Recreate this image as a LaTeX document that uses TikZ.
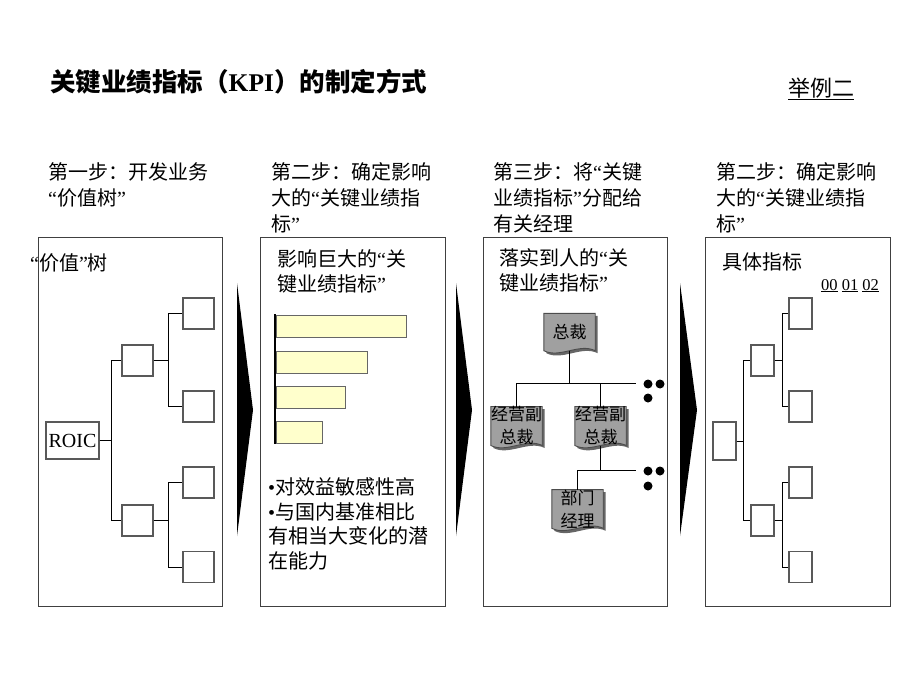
\documentclass[tikz,border=0pt]{standalone}
\usepackage{fontspec}
\setmainfont{Noto Sans CJK SC}
\newfontfamily\tnr{Liberation Serif}
\usetikzlibrary{backgrounds}
\definecolor{barfill}{HTML}{FFFFCC}
\definecolor{docgray}{HTML}{A0A0A0}
\newcommand\oq{{\tnr “}}
\newcommand\cq{{\tnr ”}}
\newcommand\bul{{\tnr •}}
\begin{document}
\begin{tikzpicture}[x=1pt,y=-1pt,
    txt/.style={anchor=base west,inner sep=0pt,align=left,font=\fontsize{20}{26}\selectfont},
    panel/.style={draw=black!75,line width=0.8pt},
    tbox/.style={draw=black!65,line width=1.1pt,inner sep=0pt,minimum height=31pt},
    doc/.style={inner sep=0pt,align=center,minimum height=37pt,font=\fontsize{17}{23}\selectfont},
    conn/.style={draw=black,line width=0.9pt},
    bar/.style={fill=barfill,draw=black!60,line width=0.8pt}]
\useasboundingbox (0,0) rectangle (920,690);

\node[txt,font=\fontsize{25.5}{25.5}\selectfont\bfseries] (title) at (50,92) {关键业绩指标（{\tnr\bfseries KPI}）的制定方式};
\node[txt,font=\fontsize{22}{22}\selectfont] (example) at (788,96.5) {\underline{举例二}};

\node[txt] (step1) at (48,205.6) {第一步：开发业务\\\oq 价值树\cq};
\node[txt] (step2) at (271,231.6) {第二步：确定影响\\大的\oq 关键业绩指\\标\cq};
\node[txt] (step3) at (493,231.6) {第三步：将\oq 关键\\业绩指标\cq 分配给\\有关经理};
\node[txt] (step4) at (716,231.6) {第二步：确定影响\\大的\oq 关键业绩指\\标\cq};

\draw[panel] (38,237) rectangle (222,606);
\draw[panel] (260,237) rectangle (445,606);
\draw[panel] (483,237) rectangle (667,606);
\draw[panel] (705,237) rectangle (890,606);

\fill (237,283) -- (253,410) -- (237,536) -- cycle;
\fill (456,283) -- (472,410) -- (456,536) -- cycle;
\fill (680,283) -- (697,410) -- (680,536) -- cycle;

\node[txt] (tree) at (30,270) {\oq 价值\cq 树};
\node[tbox,minimum width=53pt,minimum height=37pt,font=\tnr\fontsize{20}{20}\selectfont] (roic) at (72.5,440.5) {ROIC};
\node[tbox,minimum width=31pt] (m1) at (137.5,360.5) {};
\node[tbox,minimum width=31pt] (m2) at (137.5,520.5) {};
\node[tbox,minimum width=31pt] (l1) at (198.5,313.5) {};
\node[tbox,minimum width=31pt] (l2) at (198.5,406.5) {};
\node[tbox,minimum width=31pt] (l3) at (198.5,482.5) {};
\node[tbox,minimum width=31pt] (l4) at (198.5,567) {};
\draw[conn] (roic.east) -- ++(12,0) |- (m1.west);
\draw[conn] (roic.east) -- ++(12,0) |- (m2.west);
\draw[conn] (m1.east) -- ++(15,0) |- (l1.west);
\draw[conn] (m1.east) -- ++(15,0) |- (l2.west);
\draw[conn] (m2.east) -- ++(15,0) |- (l3.west);
\draw[conn] (m2.east) -- ++(15,0) |- (l4.west);

\node[txt,font=\fontsize{20}{25}\selectfont] (kpi) at (277,291) {影响巨大的\oq 关\\键业绩指标\cq};
\draw[bar] (276,315) rectangle (406,337);
\draw[bar] (276,351) rectangle (367,373);
\draw[bar] (276,386) rectangle (345,408);
\draw[bar] (276,421) rectangle (322,443);
\draw[line width=2.6pt] (275,314) -- (275,444);
\node[txt,font=\fontsize{20}{24.5}\selectfont] (notes) at (268,568) {\bul 对效益敏感性高\\\bul 与国内基准相比\\有相当大变化的潜\\在能力};

\node[txt,font=\fontsize{20}{25}\selectfont] (owner) at (499,290.6) {落实到人的\oq 关\\键业绩指标\cq};
\node[doc,minimum width=51pt,font=\fontsize{17}{20}\selectfont] (ceo) at (569.5,332) {总裁};
\node[doc,minimum width=51pt] (vp1) at (516.5,426) {经营副\\总裁};
\node[doc,minimum width=51pt] (vp2) at (600.5,426) {经营副\\总裁};
\node[doc,minimum width=51pt] (mgr) at (577.5,509) {部门\\经理};
\begin{scope}[on background layer]
\foreach \n in {ceo,vp1,vp2,mgr}{
  \fill[black!60,transform canvas={xshift=2.5pt,yshift=-2.5pt}] (\n.north west) -- (\n.north east) -- (\n.south east) .. controls +(-16,-8) and +(16,8) .. (\n.south west) -- cycle;
  \filldraw[fill=docgray,draw=black!70,line width=0.9pt] (\n.north west) -- (\n.north east) -- (\n.south east) .. controls +(-16,-8) and +(16,8) .. (\n.south west) -- cycle;
}
\end{scope}
\coordinate (bus1) at (636,383);
\coordinate (bus2) at (636,470);
\draw[conn] (ceo.south) -- (ceo.south |- bus1);
\draw[conn] (vp1.north) |- (bus1);
\draw[conn] (vp2.north) -- (vp2.north |- bus1);
\draw[conn] (vp2.south) -- (vp2.south |- bus2);
\draw[conn] (mgr.north) |- (bus2);
\foreach \p in {(648,384),(660,384),(648,398),(648,471),(660,471),(648,486)}
  \fill \p circle (4.5);

\node[txt] (detail) at (722,269.6) {具体指标};
\node[txt,font=\tnr\fontsize{16.5}{16.5}\selectfont] (years) at (821,290) {\underline{00} \underline{01} \underline{02}};
\node[tbox,minimum width=23pt,minimum height=38pt] (r4) at (724.5,441) {};
\node[tbox,minimum width=23pt] (n1) at (762.5,360.5) {};
\node[tbox,minimum width=23pt] (n2) at (762.5,520.5) {};
\node[tbox,minimum width=23pt] (k1) at (800.5,313.5) {};
\node[tbox,minimum width=23pt] (k2) at (800.5,406.5) {};
\node[tbox,minimum width=23pt] (k3) at (800.5,482.5) {};
\node[tbox,minimum width=23pt] (k4) at (800.5,567) {};
\draw[conn] (r4.east) -- ++(7,0) |- (n1.west);
\draw[conn] (r4.east) -- ++(7,0) |- (n2.west);
\draw[conn] (n1.east) -- ++(8,0) |- (k1.west);
\draw[conn] (n1.east) -- ++(8,0) |- (k2.west);
\draw[conn] (n2.east) -- ++(8,0) |- (k3.west);
\draw[conn] (n2.east) -- ++(8,0) |- (k4.west);
\end{tikzpicture}
\end{document}
